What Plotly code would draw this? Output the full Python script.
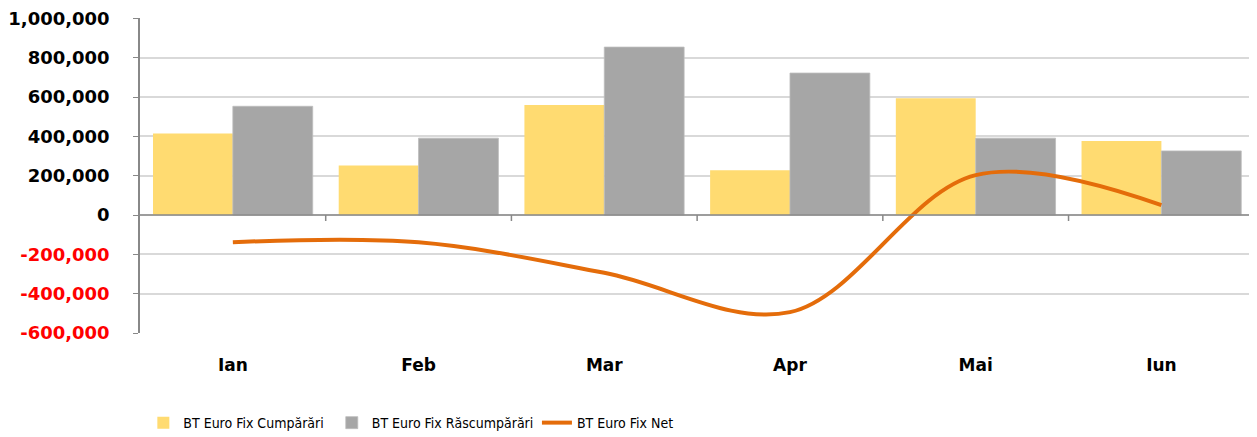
import plotly.graph_objects as go

months = ["Ian", "Feb", "Mar", "Apr", "Mai", "Iun"]
cumparari = [415000, 252000, 560000, 228000, 594000, 376000]
rascumparari = [553000, 391000, 854000, 722000, 391000, 326000]
net = [-138000, -139000, -294000, -494000, 203000, 50000]

series_names = ["BT Euro Fix Cumpărări", "BT Euro Fix Răscumpărări", "BT Euro Fix Net"]
tick_vals = [-600000, -400000, -200000, 0, 200000, 400000, 600000, 800000, 1000000]


def fmt(v):
    s = f"{v:,}"
    if v < 0:
        return f"<span style='color:#FF0000'>{s}</span>"
    return s


tick_text = [fmt(v) for v in tick_vals]

fig = go.Figure()
fig.add_trace(go.Bar(x=months, y=cumparari, name=series_names[0], legend="legend",
                     marker=dict(color="#FFDB71", line=dict(width=0))))
fig.add_trace(go.Bar(x=months, y=rascumparari, name=series_names[1], legend="legend2",
                     marker=dict(color="#A6A6A6", line=dict(color="#BDBDBD", width=0.8))))
fig.add_trace(go.Scatter(x=months, y=net, name=series_names[2], mode="lines", legend="legend3",
                         line=dict(color="#E46C0A", width=4, shape="spline", smoothing=1.0)))

# axis decorations: zero line and tick marks between categories
for i in range(len(months)):
    fig.add_shape(type="line", xref="x", yref="y", x0=i + 0.5, x1=i + 0.5,
                  y0=0, y1=-6, ysizemode="pixel", yanchor=0,
                  line=dict(color="#888888", width=1.5), layer="above")
fig.add_shape(type="line", xref="paper", yref="y", x0=0, x1=1, y0=0, y1=0,
              line=dict(color="#888888", width=1.5), layer="above")

legend_font = dict(family="DejaVu Sans Condensed, DejaVu Sans", size=14, color="#000000")
leg_common = dict(orientation="h", y=-0.235, xanchor="left", yanchor="top",
                  font=legend_font, itemwidth=30, bgcolor="rgba(0,0,0,0)")

fig.update_layout(
    width=1249, height=429,
    margin=dict(l=132, r=2, t=10, b=104, autoexpand=False),
    paper_bgcolor="white", plot_bgcolor="white",
    barmode="group", bargap=0.14, bargroupgap=0,
    font=dict(family="DejaVu Sans", color="#000000"),
    showlegend=True,
    legend=dict(x=0.003, **leg_common),
    legend2=dict(x=0.172, **leg_common),
    legend3=dict(x=0.356, **leg_common),
)
fig.update_yaxes(range=[-600000, 1002000], tickvals=tick_vals, ticktext=tick_text,
                 showgrid=True, gridcolor="#D9D9D9", gridwidth=1.5,
                 zeroline=False, showline=True, linecolor="#888888", linewidth=1.5,
                 ticks="outside", ticklen=5, tickcolor="#888888",
                 ticklabelstandoff=20, ticklabeloverflow="allow",
                 tickfont=dict(family="DejaVu Sans", size=18, color="#000000", weight="bold"))
fig.update_xaxes(showgrid=False, zeroline=False, showline=False, ticks="",
                 ticklabelstandoff=20,
                 tickfont=dict(family="DejaVu Sans", size=17, color="#000000", weight="bold"))

fig.write_html("out.html")
